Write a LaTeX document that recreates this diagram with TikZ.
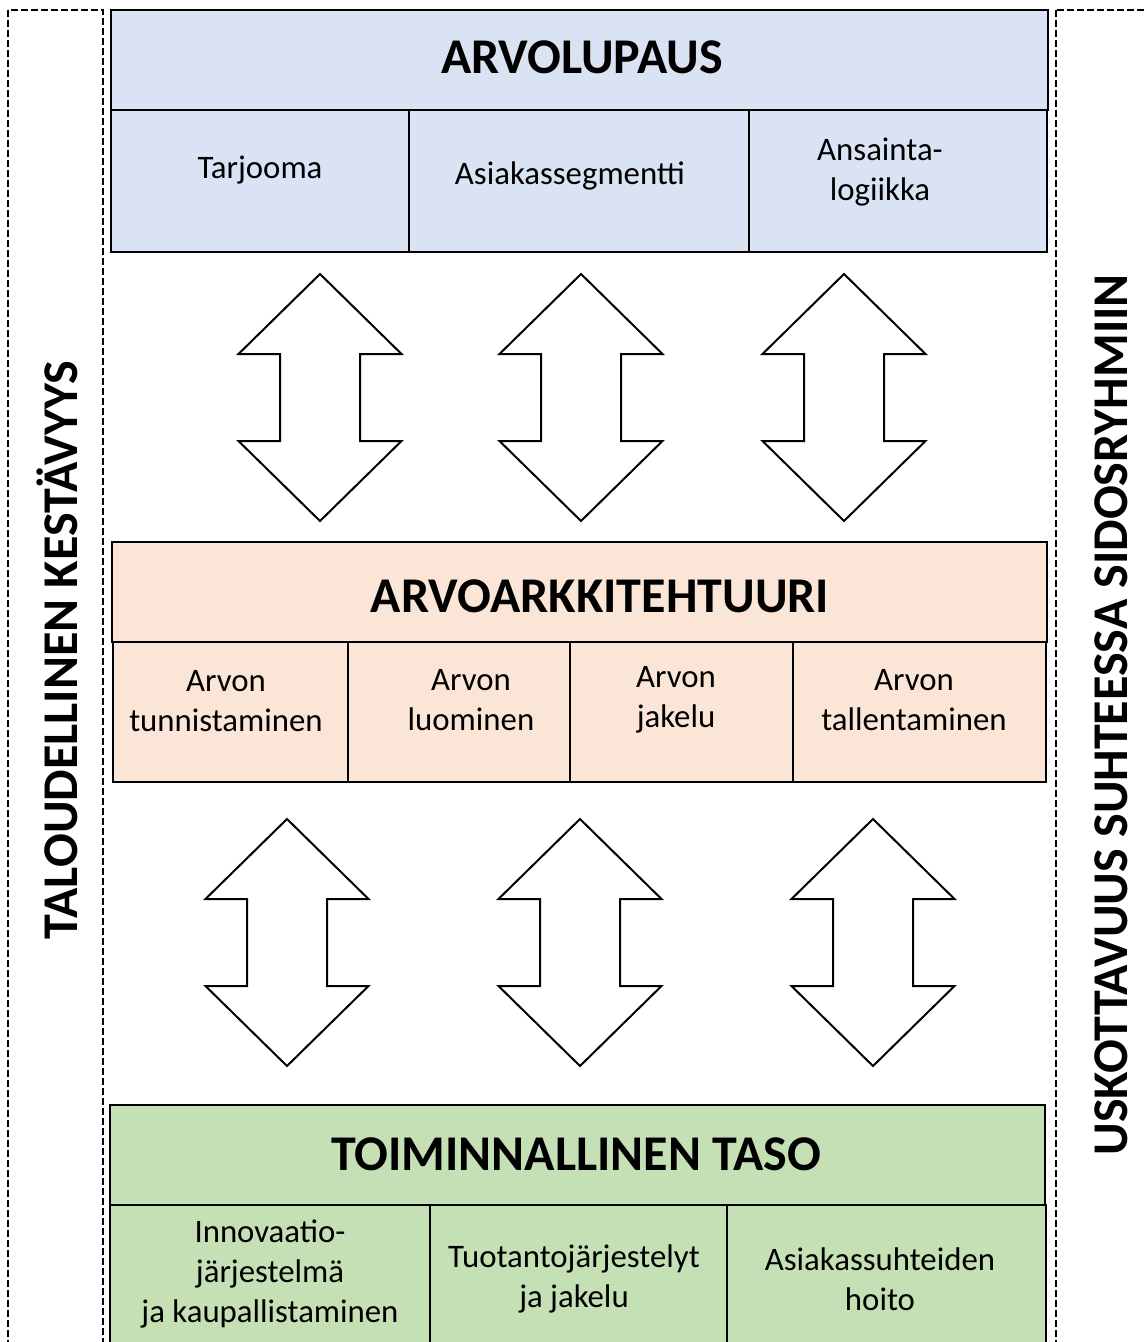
\documentclass[tikz,border=0pt]{standalone}
\usepackage{fontspec}
\setmainfont{Carlito}
\definecolor{bluefill}{HTML}{DAE3F3}
\definecolor{peachfill}{HTML}{FBE5D6}
\definecolor{greenfill}{HTML}{C5E0B4}
\tikzset{
  box/.style={draw, line width=2.1pt, rectangle, inner sep=0pt},
  dashbox/.style={draw, line width=1.6pt, dash pattern=on 5pt off 2.5pt},
  titletxt/.style={font=\bfseries\fontsize{37.5}{42}\selectfont, inner sep=0pt},
  subtxt/.style={font=\fontsize{24.6}{30}\selectfont, align=center, inner sep=0pt},
  sidetxt/.style={font=\bfseries\fontsize{37.5}{42}\selectfont, inner sep=0pt, rotate=90},
  arrline/.style={draw, line width=1.5pt, fill=white, line join=miter},
  dblarr/.pic={\path[arrline] (0,-123.5) -- (81.5,-43.5) -- (40,-43.5) -- (40,43.5) -- (81.5,43.5) -- (0,123.5) -- (-81.5,43.5) -- (-40,43.5) -- (-40,-43.5) -- (-81.5,-43.5) -- cycle;}
}
\newcommand\bx[6]{\node[box, fill=#1, minimum width={(#4-#2)*0.75pt}, minimum height={(#5-#3)*0.75pt}] (#6) at ({(#2+#4)/2},{(#3+#5)/2}) {};}
\begin{document}
\begin{tikzpicture}[x=0.75pt,y=-0.75pt]
\useasboundingbox (0,0) rectangle (1144,1342);
\begin{scope}
\clip (0,0) rectangle (1144,1342);
% dashed side frames
\draw[dashbox] (8,10) rectangle (103,1370);
\draw[dashbox] (1056,10) rectangle (1180,1370);
% top block
\bx{bluefill}{111}{10}{1048}{110}{top}
\bx{bluefill}{111}{110}{409}{252}{t1}
\bx{bluefill}{409}{110}{749}{252}{t2}
\bx{bluefill}{749}{110}{1047}{252}{t3}
% middle block
\bx{peachfill}{112}{542}{1047}{642}{mid}
\bx{peachfill}{113}{642}{348}{782}{m1}
\bx{peachfill}{348}{642}{570}{782}{m2}
\bx{peachfill}{570}{642}{793}{782}{m3}
\bx{peachfill}{793}{642}{1046}{782}{m4}
% bottom block
\bx{greenfill}{110}{1105}{1045}{1205}{bot}
\bx{greenfill}{110}{1205}{430}{1370}{b1}
\bx{greenfill}{430}{1205}{727}{1370}{b2}
\bx{greenfill}{727}{1205}{1046}{1370}{b3}
% texts
\node[titletxt] (toptxt) at (582,57) {ARVOLUPAUS};
\node[subtxt] (t1txt) at (260,170) {Tarjooma};
\node[subtxt] (t2txt) at (570,176) {Asiakassegmentti};
\node[subtxt] (t3txt) at (880,172) {Ansainta-\\logiikka};
\node[titletxt] (midtxt) at (600,596) {ARVOARKKITEHTUURI};
\node[subtxt] (m1txt) at (226,701) {Arvon\\tunnistaminen};
\node[subtxt] (m2txt) at (471,700) {Arvon\\luominen};
\node[subtxt] (m3txt) at (676,700) {Arvon\\jakelu};
\node[subtxt] (m4txt) at (914,700) {Arvon\\tallentaminen};
\node[titletxt] (bottxt) at (576,1154) {TOIMINNALLINEN TASO};
\node[subtxt] (b1txt) at (270,1274) {Innovaatio-\\järjestelmä\\ja kaupallistaminen};
\node[subtxt] (b2txt) at (574,1279) {Tuotantojärjestelyt\\ja jakelu};
\node[subtxt] (b3txt) at (880,1279) {Asiakassuhteiden\\hoito};
% side texts
\node[sidetxt] (lefttxt) at (57,650) {TALOUDELLINEN KESTÄVYYS};
\node[sidetxt] (righttxt) at (1111,715) {USKOTTAVUUS SUHTEESSA SIDOSRYHMIIN};
% double arrows
\pic at (320,397.5) {dblarr};
\pic at (581,397.5) {dblarr};
\pic at (844,397.5) {dblarr};
\pic at (287,942.5) {dblarr};
\pic at (580,942.5) {dblarr};
\pic at (873,942.5) {dblarr};
\end{scope}
\end{tikzpicture}
\end{document}
